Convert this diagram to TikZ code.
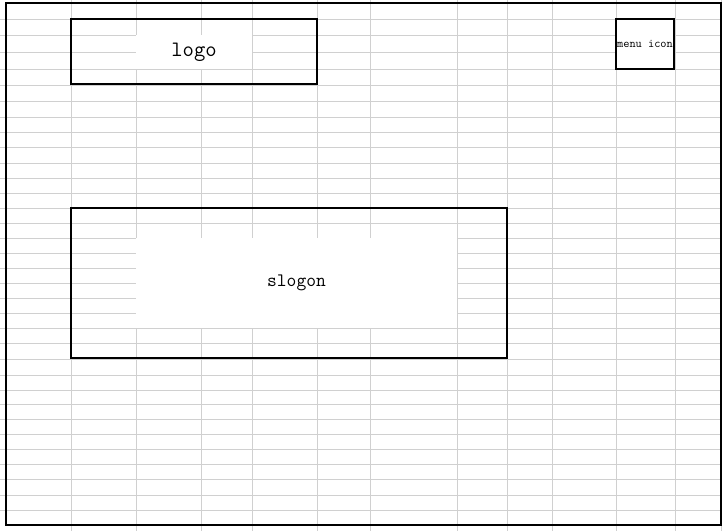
\documentclass[tikz,border=0pt]{standalone}
\usetikzlibrary{positioning}
\definecolor{gridgray}{RGB}{208,208,208}
\tikzset{box/.style={
            draw,
            line width=1.8pt,
            inner sep=0pt
        },
        cell/.style={
            fill=white,
            inner sep=0pt,
            font=\ttfamily
        },
        gridline/.style={
            gridgray,
            line width=0.9pt
        }
    }

\begin{document}
\begin{tikzpicture}[x=1pt,y=-1pt]
        \useasboundingbox (0,0) rectangle (726,531);
        % sheet grid
        \foreach \x in {71,136,201,252,317,370,457,507,552,616,675,721}
            \draw[gridline] (\x,0) -- (\x,531);
        \foreach \y in {19,35,52,69,85,101,117,132,147,163,178,193,208,223,238,253,268,283,298,313,328,343,359,375,390,404,419,434,449,464,479,495,510}
            \draw[gridline] (0,\y) -- (721,\y);
        \node[box,minimum width=715pt,minimum height=522pt] at (363.5,264) (page) {};
        \node[cell,minimum width=116pt,minimum height=34pt,font=\ttfamily\fontsize{22}{24}\selectfont] at (194,52) (logocell) {logo};
        \node[box,minimum width=246pt,minimum height=65pt] at (194,51.5) (logo) {};
        \node[box,fill=white,minimum width=58pt,minimum height=50pt,font=\ttfamily\fontsize{12}{13}\selectfont] at (645,44) (menu) {menu icon};
        \node[cell,minimum width=321pt,minimum height=90pt,font=\ttfamily\fontsize{19}{21}\selectfont] at (296.5,283) (slogoncell) {slogon};
        \node[box,minimum width=436pt,minimum height=150pt] at (289,283) (slogon) {};
    \end{tikzpicture}
\end{document}
